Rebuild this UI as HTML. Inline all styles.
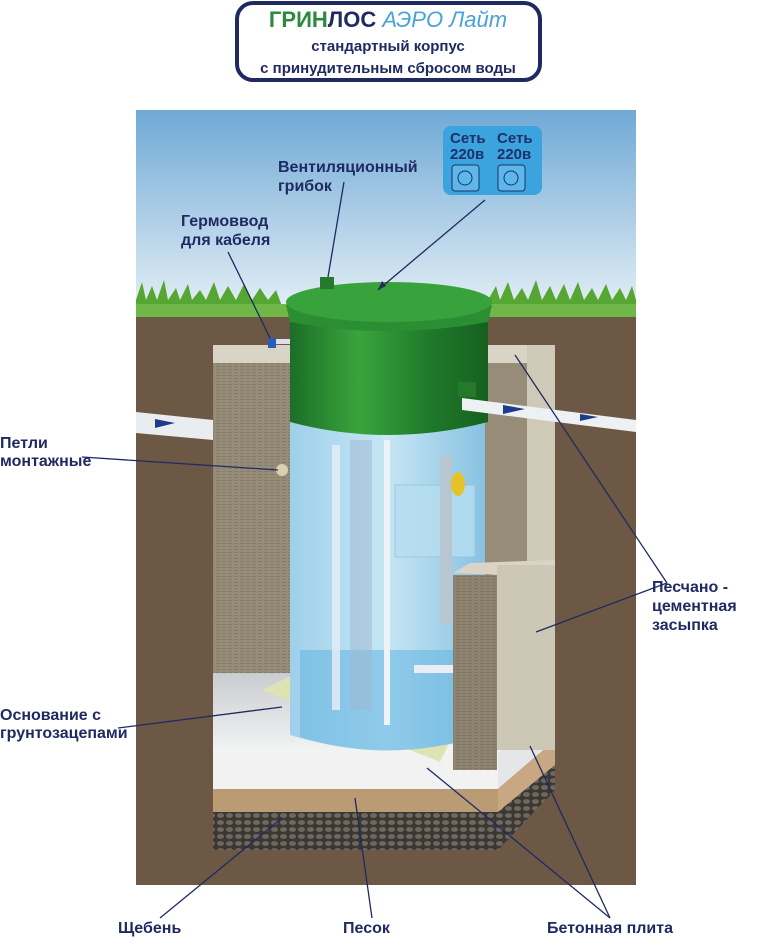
<!DOCTYPE html>
<html><head><meta charset="utf-8"><style>
body{margin:0;background:#fff;width:764px;height:941px;overflow:hidden}
</style></head><body>
<svg width="764" height="941" viewBox="0 0 764 941" xmlns="http://www.w3.org/2000/svg" font-family="Liberation Sans, sans-serif">
<defs>
<linearGradient id="sky" x1="0" y1="0" x2="0" y2="1"><stop offset="0" stop-color="#6fa9d6"/><stop offset="1" stop-color="#e8f1f6"/></linearGradient>
<linearGradient id="green" x1="0" y1="0" x2="1" y2="0"><stop offset="0" stop-color="#1b6e27"/><stop offset="0.35" stop-color="#3aa43c"/><stop offset="0.7" stop-color="#1f7a2b"/><stop offset="1" stop-color="#17601f"/></linearGradient>
<linearGradient id="water" x1="0" y1="0" x2="1" y2="0"><stop offset="0" stop-color="#9fd0ea"/><stop offset="0.5" stop-color="#c6e6f4"/><stop offset="1" stop-color="#88c2e2"/></linearGradient>
<linearGradient id="slab" x1="0" y1="0" x2="0" y2="1"><stop offset="0" stop-color="#c9ccd0"/><stop offset="1" stop-color="#f3f4f4"/></linearGradient>
<pattern id="grav" width="9" height="7" patternUnits="userSpaceOnUse"><rect width="9" height="7" fill="#3b3732"/><ellipse cx="4.5" cy="3.5" rx="3.5" ry="2.4" fill="#6f685f"/></pattern>
<pattern id="tex" width="6" height="3" patternUnits="userSpaceOnUse"><rect width="6" height="3" fill="none"/><rect y="0" width="4" height="1" fill="#000" opacity="0.12"/></pattern>
</defs>
<rect x="136" y="110" width="500" height="775" fill="#6c5844"/>
<rect x="136" y="110" width="500" height="207" fill="url(#sky)"/>
<g fill="#55a633">
<path d="M136 317 L136 300 L142 282 L146 300 L152 286 L157 300 L164 280 L168 300 L176 288 L180 300 L188 284 L192 300 L200 290 L206 300 L214 282 L220 300 L228 286 L236 300 L244 284 L252 300 L260 288 L268 300 L276 290 L286 317 Z"/>
<path d="M488 317 L488 300 L496 286 L500 300 L508 282 L514 300 L522 288 L528 300 L536 280 L542 300 L550 286 L556 300 L564 284 L570 300 L578 282 L584 300 L592 288 L598 300 L606 284 L612 300 L620 288 L626 300 L632 286 L636 300 L636 317 Z"/>
</g>
<rect x="136" y="304" width="500" height="13" fill="#6fb748"/>
<!-- fill blocks -->
<rect x="213" y="345" width="110" height="20" fill="#d9d4c6"/>
<rect x="213" y="363" width="80" height="310" fill="#978c77"/>
<rect x="213" y="363" width="80" height="310" fill="url(#tex)"/>
<rect x="480" y="345" width="75" height="20" fill="#d9d4c6"/>
<rect x="480" y="363" width="47" height="200" fill="#978c77"/>
<rect x="527" y="345" width="28" height="230" fill="#cfc9b8"/>
<!-- slab -->
<rect x="213" y="673" width="342" height="80" fill="url(#slab)"/>
<rect x="213" y="753" width="285" height="36" fill="#f2f2f2"/>
<path d="M498 753 L555 710 L555 740 L498 789 Z" fill="#e4e6e8"/>
<rect x="213" y="789" width="285" height="23" fill="#b99b74"/>
<path d="M498 789 L555 740 L555 765 L498 812 Z" fill="#c8a882"/>
<rect x="213" y="812" width="285" height="38" fill="url(#grav)"/>
<path d="M498 812 L555 765 L555 790 L498 850 Z" fill="url(#grav)"/>
<!-- tank -->
<path d="M262 690 L295 674 L470 700 L440 762 Z" fill="#dfe3b4"/>
<path d="M290 420 L485 420 L485 735 Q388 765 290 735 Z" fill="url(#water)"/>
<path d="M300 650 L485 650 L485 735 Q388 765 300 737 Z" fill="#6ab7e2" opacity="0.6"/>
<rect x="395" y="485" width="80" height="72" fill="#b7def0" opacity="0.8" stroke="#8fc6e0"/>
<rect x="332" y="445" width="8" height="265" fill="#e4ecf4" opacity="0.85"/>
<rect x="350" y="440" width="22" height="270" fill="#9fb8d0" opacity="0.5"/>
<rect x="384" y="440" width="6" height="285" fill="#eef3f8"/>
<rect x="440" y="455" width="12" height="170" fill="#b8c6d2"/>
<ellipse cx="458" cy="484" rx="7" ry="12" fill="#e6c22a"/>
<rect x="414" y="665" width="40" height="8" fill="#e8eef4"/>
<path d="M290 305 L488 305 L488 422 Q388 448 290 422 Z" fill="url(#green)"/>
<path d="M286 305 L492 305 L488 322 Q388 340 290 322 Z" fill="#2b8e33"/>
<ellipse cx="389" cy="302" rx="103" ry="20" fill="#38a23c"/>
<rect x="320" y="277" width="14" height="12" fill="#247a2a"/>
<!-- front block -->
<path d="M453 573 L470 563 L555 560 L555 575 L497 575 Z" fill="#d9d4c6"/>
<rect x="453" y="575" width="44" height="195" fill="#8f846f"/>
<rect x="453" y="575" width="44" height="195" fill="url(#tex)"/>
<rect x="497" y="565" width="58" height="185" fill="#cdc7b6"/>
<!-- pipes -->
<path d="M136 412 L213 420 L213 440 L136 433 Z" fill="#e9edf0"/>
<path d="M155 419 l20 4 l-20 5 z" fill="#1e3a8a"/>
<path d="M462 398 L636 420 L636 432 L462 410 Z" fill="#eef1f3"/>
<path d="M503 405 l22 4 l-22 5 z" fill="#1e3a8a"/>
<path d="M580 414 l18 3 l-18 4z" fill="#1e3a8a"/>
<rect x="458" y="382" width="18" height="15" fill="#247a2a"/>
<rect x="268" y="338" width="8" height="10" fill="#2a5bb5"/>
<rect x="276" y="339" width="14" height="5" fill="#dde"/>
<circle cx="282" cy="470" r="6" fill="#d8d0b0"/>
<!-- socket box -->
<rect x="443" y="126" width="99" height="69" rx="8" fill="#3ba3de"/>
<g fill="#1f2f6a" font-size="15" font-weight="bold">
<text x="450" y="143">Сеть</text><text x="497" y="143">Сеть</text>
<text x="450" y="159">220в</text><text x="497" y="159">220в</text></g>
<rect x="452" y="165" width="27" height="26" rx="3" fill="#5cb8e8" stroke="#1f2f6a"/>
<rect x="498" y="165" width="27" height="26" rx="3" fill="#5cb8e8" stroke="#1f2f6a"/>
<circle cx="465" cy="178" r="7" fill="none" stroke="#1f2f6a"/><circle cx="511" cy="178" r="7" fill="none" stroke="#1f2f6a"/>
<!-- title -->
<rect x="237" y="3" width="303" height="77" rx="16" fill="#fff" stroke="#1f2a63" stroke-width="4"/>
<text x="388" y="27" font-size="22" font-weight="bold" fill="#2b8a3e" text-anchor="middle">ГРИН<tspan fill="#1f2a63">ЛОС</tspan> <tspan fill="#4aa3d8" font-style="italic" font-weight="normal">АЭРО Лайт</tspan></text>
<text x="388" y="51" font-size="15" font-weight="bold" text-anchor="middle" fill="#1f2a63">стандартный корпус</text>
<text x="388" y="73" font-size="15" font-weight="bold" text-anchor="middle" fill="#1f2a63">с принудительным сбросом воды</text>
<!-- labels -->
<g fill="#1f2a63" font-size="16" font-weight="bold">
<text x="278" y="172">Вентиляционный</text><text x="278" y="191">грибок</text>
<text x="181" y="226">Гермоввод</text><text x="181" y="245">для кабеля</text>
<text x="0" y="448">Петли</text><text x="0" y="466">монтажные</text>
<text x="652" y="592">Песчано -</text><text x="652" y="611">цементная</text><text x="652" y="630">засыпка</text>
<text x="0" y="720">Основание с</text><text x="0" y="738">грунтозацепами</text>
<text x="118" y="933">Щебень</text><text x="343" y="933">Песок</text><text x="547" y="933">Бетонная плита</text>
</g>
<g stroke="#1f2a63" stroke-width="1.3" fill="none">
<line x1="344" y1="182" x2="328" y2="277"/>
<line x1="228" y1="252" x2="270" y2="338"/>
<line x1="485" y1="200" x2="378" y2="290"/>
<line x1="82" y1="457" x2="278" y2="470"/>
<line x1="667" y1="583" x2="515" y2="355"/><line x1="667" y1="583" x2="536" y2="632"/>
<line x1="118" y1="728" x2="282" y2="707"/>
<line x1="160" y1="918" x2="282" y2="818"/>
<line x1="372" y1="918" x2="355" y2="798"/>
<line x1="610" y1="918" x2="427" y2="768"/><line x1="610" y1="918" x2="530" y2="746"/>
</g>
<g fill="#1f2a63"><path d="M378 290 l4 -9 l4 5z"/></g>
</svg>
</body></html>
